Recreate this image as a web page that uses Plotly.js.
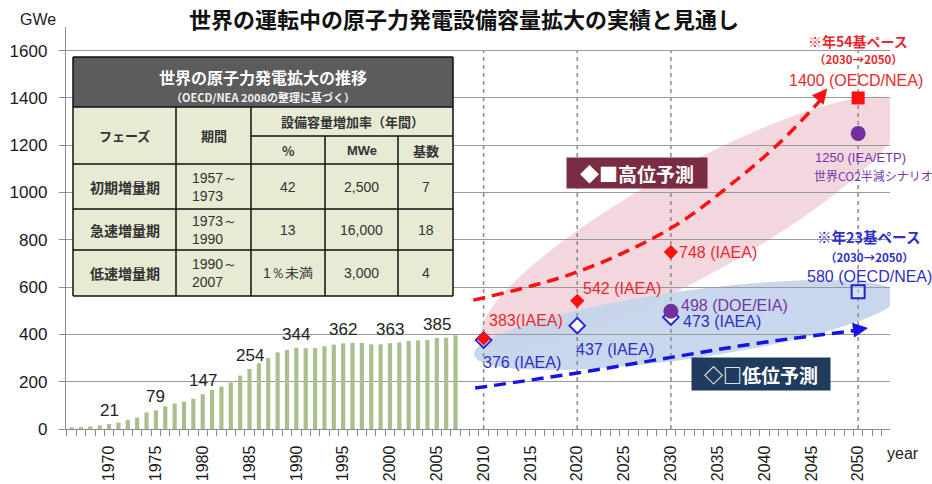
<!DOCTYPE html>
<html><head><meta charset="utf-8">
<script src="https://cdn.plot.ly/plotly-3.0.1.min.js"></script>
<style>html,body{margin:0;padding:0;background:#fff;}#chart{width:932px;height:484px;}</style>
</head><body><div id="chart"></div>
<script>
// ---------- data ----------
const years = [1966,1967,1968,1969,1970,1971,1972,1973,1974,1975,1976,1977,1978,1979,1980,1981,1982,1983,1984,1985,1986,1987,1988,1989,1990,1991,1992,1993,1994,1995,1996,1997,1998,1999,2000,2001,2002,2003,2004,2005,2006,2007];
const capacity = [7,8,11,15,21,27,38,48,70,79,96,108,116,128,147,165,179,196,226,254,278,300,324,334,344,342,342,350,357,362,364,364,358,358,363,366,372,375,377,385,386,396];
const labelYears = [1970,1975,1980,1985,1990,1995,2000,2005];

const xTickVals = [1970,1975,1980,1985,1990,1995,2000,2005,2010,2015,2020,2025,2030,2035,2040,2045,2050];
const yTickVals = [0,200,400,600,800,1000,1200,1400,1600];
const forecastGridYears = [2010,2020,2030,2050];

const highYears = [2010,2020,2030];
const highVals = [383,542,748];
const highLabels = ['383(IAEA)','542 (IAEA)','748 (IAEA)'];
const high2050Year = [2050];
const high2050Val = [1400];
const high2050Label = '1400 (OECD/NEA)';

const lowYears = [2010,2020,2030];
const lowVals = [376,437,473];
const lowLabels = ['376 (IAEA)','437 (IAEA)','473 (IAEA)'];
const low2050Year = [2050];
const low2050Val = [580];
const low2050Label = '580 (OECD/NEA)';

const otherYears = [2030,2050];
const otherVals = [498,1250];
const otherLabels = ['498 (DOE/EIA)','1250 (IEA/ETP)'];

const highTrendYears = [2008.9,2020,2030.2,2037,2041.7,2046.2];
const highTrendVals = [545,664,854,1053,1214,1400];
const lowTrendYears = [2009.1,2020,2030.2,2039.5,2050.2];
const lowTrendVals = [173,237,304,364,419];

const tableTitle = '世界の原子力発電拡大の推移';
const tableSubtitle = '（OECD/NEA 2008の整理に基づく）';
const tableHead = ['フェーズ','期間','設備容量増加率（年間）','%','MWe','基数'];
const tablePhases = ['初期増量期','急速増量期','低速増量期'];
const tablePeriods = ['1957～<br>1973','1973～<br>1990','1990～<br>2007'];
const tablePct = ['42','13','1％未満'];
const tableMWe = ['2,500','16,000','3,000'];
const tableUnits = ['7','18','4'];

// ---------- geometry helpers ----------
const W = 932, H = 484;
const PL = 66, PR = 890, PT = 27, PB = 429;
const XR = [1965.4, 2053.4], YR = [0, 1700];
const pxX = x => (x - PL) / (PR - PL);
const pxY = y => (PB - y) / (PB - PT);
const pxPerYear = (PR - PL) / (XR[1] - XR[0]);
const pxPerVal = (PB - PT) / (YR[1] - YR[0]);

function ellipsePath(cxPix, cyPix, a, b, angDeg) {
  const th = angDeg * Math.PI / 180;
  const cx = XR[0] + (cxPix - PL) / pxPerYear;
  const cy = (PB - cyPix) / pxPerVal;
  let d = '';
  for (let i = 0; i <= 72; i++) {
    const t = i / 72 * 2 * Math.PI;
    const dx = a * Math.cos(t) * Math.cos(th) - b * Math.sin(t) * Math.sin(th);
    const dy = a * Math.cos(t) * Math.sin(th) + b * Math.sin(t) * Math.cos(th);
    d += (i === 0 ? 'M' : 'L') + (cx + dx / pxPerYear).toFixed(3) + ',' + (cy + dy / pxPerVal).toFixed(2);
  }
  return d + 'Z';
}

const FONT = 'Liberation Sans, Arial, sans-serif';
const JFONT = 'Noto Sans CJK JP, sans-serif';
const RED = '#ff1010', BLUE = '#2222d6', PURPLE = '#7030a0';
const RED_T = '#e8282e', BLUE_T = '#2f2fc8', PURPLE_T = '#7535a8';

// ---------- traces ----------
const traces = [
  {type:'bar', x:years, y:capacity, width:0.45, marker:{color:'#a9bf8d'}, hoverinfo:'x+y'},
  {type:'scatter', mode:'lines', x:highTrendYears, y:highTrendVals, line:{color:RED, width:3.5, dash:'12px,7px', shape:'spline'}},
  {type:'scatter', mode:'lines', x:lowTrendYears, y:lowTrendVals, line:{color:'#1414e6', width:3.5, dash:'12px,7px', shape:'spline'}},
  {type:'scatter', mode:'markers', x:lowYears, y:lowVals, marker:{symbol:'diamond', size:12, color:'#ffffff', line:{color:BLUE, width:2}}},
  {type:'scatter', mode:'markers', x:low2050Year, y:low2050Val, marker:{symbol:'square', size:13, color:'rgba(255,255,255,0.3)', line:{color:BLUE, width:2}}},
  {type:'scatter', mode:'markers', x:otherYears, y:otherVals, marker:{symbol:'circle', size:15, color:PURPLE}},
  {type:'scatter', mode:'markers', x:highYears, y:highVals, marker:{symbol:'diamond', size:11, color:RED}},
  {type:'scatter', mode:'markers', x:high2050Year, y:high2050Val, marker:{symbol:'square', size:13, color:RED}}
];

// ---------- shapes ----------
const shapes = [];
shapes.push({type:'path', xref:'x', yref:'y', layer:'below', path:ellipsePath(693,222,240,54,29), fillcolor:'rgb(243,215,223)', line:{width:0}});
shapes.push({type:'path', xref:'x', yref:'y', layer:'below', path:ellipsePath(686,325,214,34,8), fillcolor:'rgba(196,212,233,0.93)', line:{width:0}});
forecastGridYears.forEach(yr => shapes.push({type:'line', xref:'x', yref:'y', layer:'below', x0:yr, x1:yr, y0:0, y1:1600, line:{color:'#8a8a8a', width:1.5, dash:'4px,4px'}}));

// table
const TL = 73, TR = 453, TT = 57, THB = 107, TSUB = 136, TROWS = [164,209,250,296];
const TC = [176, 251, 325, 398];
function rect(x0,y0,x1,y1,fill){shapes.push({type:'rect', xref:'paper', yref:'paper', layer:'above', x0:pxX(x0), x1:pxX(x1), y0:pxY(y1), y1:pxY(y0), fillcolor:fill, line:{width:0}});}
function hline(x0,x1,y){shapes.push({type:'line', xref:'paper', yref:'paper', layer:'above', x0:pxX(x0), x1:pxX(x1), y0:pxY(y), y1:pxY(y), line:{color:'#111', width:1.5}});}
function vline(x,y0,y1){shapes.push({type:'line', xref:'paper', yref:'paper', layer:'above', x0:pxX(x), x1:pxX(x), y0:pxY(y0), y1:pxY(y1), line:{color:'#111', width:1.5}});}
rect(TL,THB,TR,TROWS[3],'#e7ebd3');
rect(TL,TT,TR,THB,'#5c5c5c');
hline(TL,TR,TT); hline(TL,TR,THB); hline(TC[1],TR,TSUB);
TROWS.forEach(y=>hline(TL,TR,y));
vline(TL,TT,TROWS[3]); vline(TR,TT,TROWS[3]);
vline(TC[0],THB,TROWS[3]); vline(TC[1],THB,TROWS[3]);
vline(TC[2],TSUB,TROWS[3]); vline(TC[3],TSUB,TROWS[3]);

// ---------- annotations ----------
const ann = [];
function ptxt(x,y,text,size,color,opts){ann.push(Object.assign({xref:'paper', yref:'paper', x:pxX(x), y:pxY(y), text:text, showarrow:false, xanchor:'center', yanchor:'middle', font:{family:JFONT, size:size, color:color}}, opts||{}));}

// bar value labels
labelYears.forEach(yr => {
  const v = capacity[years.indexOf(yr)];
  ann.push({xref:'x', yref:'y', x:yr, y:v, text:String(v), showarrow:false, yanchor:'bottom', yshift:2, font:{family:FONT, size:17, color:'#222'}});
});

// forecast labels (anchored to their markers)
function mtxt(x,y,text,color,size,xs,ys,xanchor,family,extra){ann.push(Object.assign({xref:'x', yref:'y', x:x, y:y, text:text, showarrow:false, xanchor:xanchor||'left', yanchor:'middle', xshift:xs, yshift:ys, font:{family:family||FONT, size:size, color:color}}, extra||{}));}
mtxt(highYears[0],highVals[0],highLabels[0],RED_T,16,3,18);
mtxt(highYears[1],highVals[1],highLabels[1],RED_T,16,4,12);
mtxt(highYears[2],highVals[2],highLabels[2],RED_T,16,6,0);
mtxt(lowYears[0],lowVals[0],lowLabels[0],BLUE_T,16,-3,-22);
mtxt(lowYears[1],lowVals[1],lowLabels[1],BLUE_T,16,-3,-24);
mtxt(lowYears[2],lowVals[2],lowLabels[2],BLUE_T,16,10,-4);
mtxt(otherYears[0],otherVals[0],otherLabels[0],PURPLE_T,16,8,6);
mtxt(high2050Year[0],high2050Val[0],high2050Label,RED_T,16,-2,17,'center');
mtxt(high2050Year[0],high2050Val[0],'<b>※年54基ペース</b>',RED_T,14,0,57,'center',JFONT);
mtxt(high2050Year[0],high2050Val[0],'<b>（2030→2050）</b>',RED_T,11.5,0,39,'center',JFONT);
mtxt(otherYears[1],otherVals[1],otherLabels[1],PURPLE_T,13,-45,-24,'left');
mtxt(otherYears[1],otherVals[1],'世界CO2半減シナリオ',PURPLE_T,12,-46,-42,'left',JFONT);
mtxt(low2050Year[0],low2050Val[0],low2050Label,BLUE_T,16,-53,15,'left');
mtxt(low2050Year[0],low2050Val[0],'<b>※年23基ペース</b>',BLUE_T,14.5,-43,55,'left',JFONT);
mtxt(low2050Year[0],low2050Val[0],'<b>（2030→2050）</b>',BLUE_T,11.5,11,35,'center',JFONT);

// arrowheads of trend lines
ann.push({xref:'x', yref:'y', x:2046.7, y:1440, ax:-9, ay:11, text:'', showarrow:true, arrowhead:2, arrowsize:1, arrowwidth:3, arrowcolor:RED, standoff:0});
ann.push({xref:'x', yref:'y', x:2051.05, y:427, ax:-14, ay:2, text:'', showarrow:true, arrowhead:2, arrowsize:1, arrowwidth:3, arrowcolor:'#1414e6', standoff:0});

// legend boxes
ptxt(637,173,'<b>◆■高位予測</b>',19,'#ffffff',{bgcolor:'#7a2c42', width:140, height:30, borderpad:0});
ptxt(761,374,'<b>◇□低位予測</b>',19,'#ffffff',{bgcolor:'#1f3b5e', width:138, height:32, borderpad:0});

// axis captions
ptxt(38,20,'GWe',16,'#222',{font:{family:FONT, size:16, color:'#222'}});
ptxt(903,453,'year',16,'#222',{font:{family:FONT, size:16, color:'#222'}});

// table texts
ptxt(263,77,'<b>'+tableTitle+'</b>',16,'#ffffff');
ptxt(263,97,'<b>'+tableSubtitle+'</b>',11,'#f2f2f2');
ptxt((TL+TC[0])/2,135.5,'<b>'+tableHead[0]+'</b>',13,'#333');
ptxt((TC[0]+TC[1])/2,135.5,'<b>'+tableHead[1]+'</b>',13,'#333');
ptxt((TC[1]+TR)/2,121.5,'<b>'+tableHead[2]+'</b>',13,'#333');
ptxt((TC[1]+TC[2])/2,150,'<b>'+tableHead[3]+'</b>',13,'#333');
ptxt((TC[2]+TC[3])/2,150,'<b>'+tableHead[4]+'</b>',13,'#333',{font:{family:FONT, size:13, color:'#333'}});
ptxt((TC[3]+TR)/2,150,'<b>'+tableHead[5]+'</b>',13,'#333');
for (let i = 0; i < 3; i++) {
  const cy = (TROWS[i] + TROWS[i+1]) / 2;
  ptxt((TL+TC[0])/2, cy, '<b>'+tablePhases[i]+'</b>', 14, '#333');
  ptxt(190, cy, tablePeriods[i], 14, '#333', {xanchor:'left', align:'left', font:{family:FONT, size:14, color:'#333'}});
  ptxt((TC[1]+TC[2])/2, cy, tablePct[i], 14, '#333', {font:{family:FONT, size:14, color:'#333'}});
  ptxt((TC[2]+TC[3])/2, cy, tableMWe[i], 14, '#333', {font:{family:FONT, size:14, color:'#333'}});
  ptxt((TC[3]+TR)/2, cy, tableUnits[i], 14, '#333', {font:{family:FONT, size:14, color:'#333'}});
}

const layout = {
  width:W, height:H,
  margin:{l:PL, r:W-PR, t:PT, b:H-PB, pad:0},
  paper_bgcolor:'#ffffff', plot_bgcolor:'#ffffff',
  showlegend:false,
  title:{text:'<b>世界の運転中の原子力発電設備容量拡大の実績と見通し</b>', font:{family:JFONT, size:22, color:'#111'}, xref:'container', yref:'container', x:464/W, xanchor:'center', y:1-20/H, yanchor:'middle'},
  xaxis:{range:XR, tickmode:'array', tickvals:xTickVals, ticktext:xTickVals.map(String), tickangle:-90,
         ticks:'', showgrid:false, zeroline:false, showline:true, linecolor:'#8c8c8c', linewidth:1.2,
         tickfont:{family:FONT, size:16, color:'#1a1a1a'}, ticklabelstandoff:9,
         minor:{ticks:'outside', ticklen:6, tickcolor:'#8c8c8c', tickwidth:1, tick0:1965.5, dtick:1, showgrid:false}},
  yaxis:{range:YR, tickmode:'array', tickvals:yTickVals, ticks:'outside', ticklen:6, tickcolor:'#8c8c8c',
         showgrid:true, gridcolor:'#9a9a9a', gridwidth:1, zeroline:false, showline:true, linecolor:'#8c8c8c', linewidth:1.2,
         tickfont:{family:FONT, size:17, color:'#1a1a1a'}, ticklabelstandoff:8},
  shapes:shapes,
  annotations:ann
};
Plotly.newPlot('chart', traces, layout, {staticPlot:true, displayModeBar:false});
</script></body></html>
